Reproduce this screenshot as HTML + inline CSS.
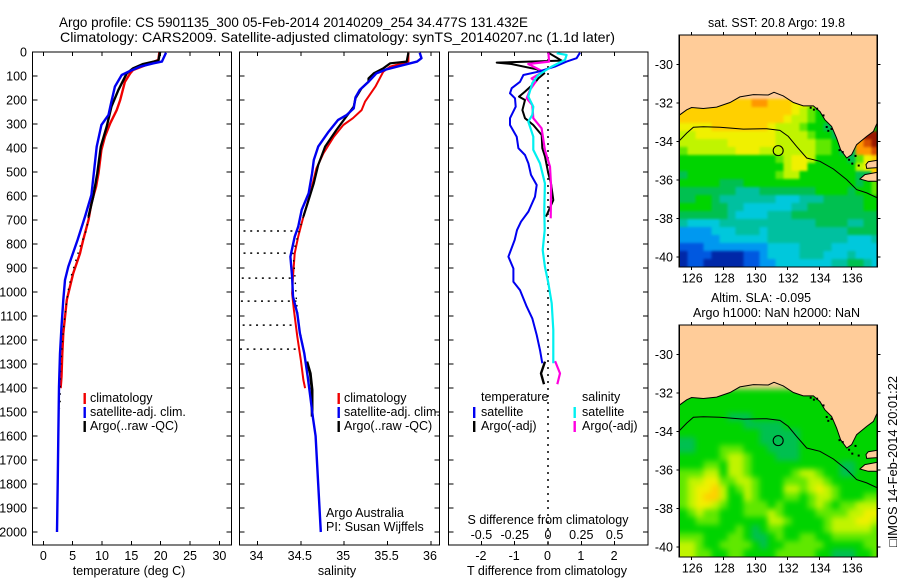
<!DOCTYPE html>
<html>
<head>
<meta charset="utf-8">
<title>Argo profile</title>
<style>
html,body{margin:0;padding:0;background:#fff;}
svg{display:block;}
text{font-family:"Liberation Sans",sans-serif;font-size:12.5px;fill:#000;}
.t{font-size:14px;}
</style>
</head>
<body>
<svg id="chart" xmlns="http://www.w3.org/2000/svg" width="900" height="580" viewBox="0 0 900 580">
<text class="t" x="59" y="27" textLength="469" lengthAdjust="spacingAndGlyphs">Argo profile: CS 5901135_300 05-Feb-2014 20140209_254 34.477S 131.432E</text>
<text class="t" x="60" y="42" textLength="555" lengthAdjust="spacingAndGlyphs">Climatology: CARS2009. Satellite-adjusted climatology: synTS_20140207.nc (1.1d later)</text>
<text x="129" y="575" text-anchor="middle">temperature (deg C)</text>
<text x="337" y="575" text-anchor="middle">salinity</text>
<text x="547" y="575" text-anchor="middle">T difference from climatology</text>
<text x="548" y="524" text-anchor="middle">S difference from climatology</text>
<text x="326" y="517">Argo Australia</text>
<text x="326" y="531">PI: Susan Wijffels</text>
<text x="708" y="27" textLength="137" lengthAdjust="spacingAndGlyphs">sat. SST: 20.8 Argo: 19.8</text>
<text x="711" y="302" textLength="100" lengthAdjust="spacingAndGlyphs">Altim. SLA: -0.095</text>
<text x="693" y="317" textLength="167" lengthAdjust="spacingAndGlyphs">Argo h1000: NaN h2000: NaN</text>
<text x="0" y="0" transform="translate(897,547) rotate(-90)" textLength="171" lengthAdjust="spacingAndGlyphs">□IMOS 14-Feb-2014 20:01:22</text>
<g id="panels"></g>
</svg>
<script>
// ---------- axis tick labels ----------
const depthTicks = [0,100,200,300,400,500,600,700,800,900,1000,1100,1200,1300,1400,1500,1600,1700,1800,1900,2000];
const tempTicks = [0,5,10,15,20,25,30];
const salTicks = [34,34.5,35,35.5,36];
const dTTicks = [-2,-1,0,1,2];
const dSTickValues = [-0.5,-0.25,0,0.25,0.5];
const lonTicks = [126,128,130,132,134,136];
const latTicks = [-30,-32,-34,-36,-38,-40];

// ---------- temperature profiles ----------
const tempClimDepth = [3,33,54,75,89,124,200,242,297,353,408,505,561,630,700,783,839,922,1033,1172,1256,1353,1401];
const tempClimValue = [19.77,19.6,17.5,15.3,14.8,13.9,13.1,12.5,11.4,10.5,9.9,9.4,9,8.2,7.7,6.8,6.25,5.1,4,3.4,3.24,3.1,2.95];
const tempSatDepth = [3,40,47,61,82,96,144,207,262,304,394,505,596,686,783,894,950,1033,1144,1256,1394,1603,1800,2000];
const tempSatValue = [20.9,20.2,18.75,16.5,14.5,13.35,12.2,11.6,11.1,9.9,9.1,8.6,8.2,7.1,5.85,4.26,3.7,3.4,3.1,2.84,2.67,2.56,2.45,2.33];
const tempArgoDepth = [0,36,50,68,89,158,228,311,394,505,603,686];
const tempArgoValue = [19.9,19.6,17,15.3,14.2,12.8,11.6,10.8,9.8,9.2,8.5,7.7];
const tempArgoSparseDepth = [686,740,811,929,992,1061,1158,1311,1485];
const tempArgoSparseValue = [7.7,7.4,6.25,4.8,4.26,3.86,3.4,2.95,2.84];

// ---------- salinity profiles ----------
const salClimDepth = [3,40,61,82,144,207,242,276,304,353,422,485,589,686,769,839,936,1006,1075,1186,1283,1367,1401];
const salClimValue = [35.74,35.74,35.53,35.45,35.36,35.24,35.2,35.1,34.99,34.88,34.76,34.68,34.61,34.53,34.47,34.43,34.41,34.4,34.42,34.46,34.5,34.53,34.55];
const salSatDepth = [3,26,40,58,72,89,124,158,189,235,262,283,332,394,450,505,589,658,728,769,853,936,1019,1089,1172,1256,1353,1436,1526,1600,1800,2000];
const salSatValue = [35.87,35.89,35.84,35.64,35.49,35.37,35.28,35.18,35.13,35.11,35.03,34.93,34.82,34.7,34.65,34.63,34.59,34.51,34.47,34.43,34.38,34.4,34.41,34.46,34.49,34.54,34.58,34.61,34.64,34.67,34.7,34.73];
const salArgoDepth = [3,40,47,68,89,110,124,151,193,228,276,325,394,471,547,617,686];
const salArgoValue = [35.74,35.72,35.53,35.45,35.34,35.28,35.28,35.2,35.13,35.11,35.01,34.91,34.78,34.7,34.65,34.59,34.53];
const salArgoSparseDepth = [686,707,839,922,1040,1144,1269];
const salArgoSparseValue = [34.53,34.51,34.41,34.43,34.45,34.48,34.55];
const salArgoLowerDepth = [1290,1339,1408,1519];
const salArgoLowerValue = [34.57,34.61,34.63,34.63];
const dottedDepths = [746,838,942,1038,1138,1238];
const dottedStartSal = [33.84,33.84,33.82,33.81,33.83,33.8];
const dottedEndSal = [34.47,34.41,34.39,34.45,34.45,34.49];

// ---------- difference profiles ----------
const dTSatDepth = [3,26,40,61,82,96,124,151,172,193,228,276,304,353,401,429,464,512,554,603,665,707,742,783,853,902,957,992,1061,1110,1179,1242,1297];
const dTSatValue = [0.96,0.86,0.56,0.21,-0.29,-0.74,-0.84,-1.09,-1.14,-0.99,-0.97,-1.14,-1.14,-0.94,-0.89,-0.69,-0.59,-0.51,-0.34,-0.39,-0.59,-0.81,-0.93,-1,-1.19,-1.04,-1.04,-0.84,-0.64,-0.47,-0.34,-0.24,-0.17];
const dTArgoDepth = [3,36,44,50,72,89,110,124,165,186,200,242,276,304,346,401,436,506,547,617,686];
const dTArgoValue = [0.01,0.41,-1.54,-1.1,-0.34,-0.11,-0.29,-0.37,-0.69,-0.87,-0.69,-0.77,-0.69,-0.44,-0.19,-0.17,-0.09,0.01,0.09,0.16,-0.06];
const dTArgoLowerDepth = [1290,1339,1384];
const dTArgoLowerValue = [-0.09,-0.21,-0.12];
const dSSatDepth = [5,12,33,61,96,130,186,228,262,290,353,408,464,547,658,742,825,894,964,1047,1158,1297];
const dSSatValue = [0.065,0.14,0.128,0.028,-0.073,-0.118,-0.148,-0.11,-0.118,-0.148,-0.11,-0.11,-0.06,-0.023,-0.028,-0.025,-0.04,-0.023,0.003,0.028,0.04,0.04];
const dSArgoDepth = [3,40,50,82,110,124,158,193,221,276,318,408,478,561,693];
const dSArgoValue = [0.003,0.008,-0.148,-0.035,-0.123,-0.093,-0.135,-0.16,-0.118,-0.11,-0.048,-0.023,0.015,0.023,0.02];
const dSArgoLowerDepth = [1288,1339,1384];
const dSArgoLowerValue = [0.053,0.09,0.07];

// ---------- map data ----------
const colorScale = ['#0028a8','#0058e0','#0098f0','#00c8dc','#00c0a0','#00c050','#00d400','#60e800','#c0f400','#f0f000','#ffd000','#ff9800','#d85000','#981800'];
const gridFirstRow = 8;
const sstRows = [
"aaaaaaaaabbaaa99877666666",
"aaaaaaaaaaaaaa98766666666",
"aaaaaaaaaaaaa988766666666",
"9999aaaaaaa98887665556666",
"8899999999998888766555bdd",
"8888889999998888877655bcd",
"7888888999888888877655bbc",
"666666666666789986666579a",
"666666666666689966666689a",
"566666666666788666666655a",
"6666655566666666666666567",
"5555555444555555566665667",
"5566544444443334445555566",
"6666554433333344555555566",
"5555554333344455555555555",
"4333344444444444455554455",
"2222333444344444444445555",
"2222233333344444444443334",
"1112222222233334444333333",
"0111000011233334443334333",
"0110000011223333333445543"
];
const slaRows = [
"6666666666666666666666666",
"6666666666666666666666666",
"6666666666666666666666666",
"6666665556666666666666666",
"6666666655555666666666666",
"6666666666555556666666666",
"5566666666555556666666666",
"5566677766655556666666666",
"6666678876665556666666666",
"6667768876666666666655666",
"7778868876666678876655666",
"7889977887666777887666666",
"7899a86787666887898766666",
"789aa86687666776788766677",
"7899876677767666787677888",
"6787766677787666677778899",
"6677766666688766667888998",
"6666666765677666667888887",
"7776667765567667766777777",
"8876677776566777776666677",
"8877667766667777766555667"
];
const coastLon = [125.25,125.71,126.02,126.75,127.58,128.42,129.04,129.88,130.81,131.17,131.75,132.38,133,133.63,134.04,134.35,134.77,135.08,135.33,135.71,136.02,136.33,136.96,137.38,137.63,137.7,125.2,125.2];
const coastLat = [-32.64,-32.36,-32.24,-32.29,-32.22,-31.98,-31.69,-31.57,-31.59,-31.45,-31.64,-31.98,-32.16,-32.16,-32.45,-32.88,-33.22,-33.83,-34.43,-34.86,-34.69,-34.17,-33.74,-33.48,-33.02,-28,-28,-32.64];
const yorkeLon = [136.92,137.06,137.63,137.63,136.96];
const yorkeLat = [-35.2,-35.05,-34.98,-35.36,-35.4];
const kangarooLon = [136.54,136.85,137.63,137.63,137.06];
const kangarooLat = [-35.95,-35.72,-35.6,-36.07,-36.07];
const isobathLon = [125.25,125.71,126.13,126.75,127.79,129.25,130.71,131.54,132.06,132.58,133.21,134.04,134.88,135.71,136.33,136.96,137.63];
const isobathLat = [-33.97,-33.57,-33.26,-33.24,-33.26,-33.36,-33.34,-33.43,-33.74,-34.26,-34.86,-35.03,-35.43,-35.98,-36.5,-36.67,-36.93];
const speckLon = [133.4,133.6,133.8,134.2,134.4,134.5,134.7,135.2,135.4,135.8,136,136.2,136.4];
const speckLat = [-32.2,-32.3,-32.25,-32.6,-33.2,-33.4,-33.3,-34.4,-34.5,-34.9,-35.1,-34.7,-35.2];
const argoLon = 131.43;
const argoLat = -34.477;

// ---------- scales ----------
const yD = d => 52 + d * 0.24;
const xT = t => 43.3 + t * 5.87;
const xS = s => 257.4 + (s - 34) * 86.8;
const xDT = t => 548 + t * 33.3;
const xDS = s => 548 + s * 133.2;
const xLon = lon => 691.3 + (lon - 126) * 16;
const yLat = (lat, top) => top + 29.3 + (-30 - lat) * 19.28;

const NS = 'http://www.w3.org/2000/svg';
const root = document.getElementById('panels');
function mk(tag, attrs, parent) {
  const e = document.createElementNS(NS, tag);
  for (const k in attrs) e.setAttribute(k, attrs[k]);
  (parent || root).appendChild(e);
  return e;
}
function tickPath(list) {
  return list.map(p => 'M' + p[0] + ' ' + p[1] + 'L' + p[2] + ' ' + p[3]).join('');
}
function polyD(xs, ys) {
  return xs.map((x, i) => (i ? 'L' : 'M') + x.toFixed(1) + ' ' + ys[i].toFixed(1)).join('');
}

function drawFrame(name, l, r, t, b, xTickPos, yTickPos) {
  const frame = mk('rect', {x:l, y:t, width:r-l, height:b-t, fill:'none', stroke:'#000', 'stroke-width':1.4, 'shape-rendering':'crispEdges'});
  
  
  const segs = [];
  xTickPos.forEach(x => { segs.push([x,t,x,t+4]); segs.push([x,b,x,b-4]); });
  yTickPos.forEach(y => { segs.push([l,y,l+5,y]); segs.push([r,y,r-5,y]); });
  const ticks = mk('path', {d:tickPath(segs), stroke:'#000', 'stroke-width':1, fill:'none', 'shape-rendering':'crispEdges'});
  
  
}
function drawLabel(name, x, y, txt, anchor) {
  const e = mk('text', {x:x, y:y, 'text-anchor':anchor || 'middle'});
  e.textContent = txt;
  
  
}
function drawSeries(name, xs, depths, color, width, dash) {
  const a = {d:polyD(xs, depths.map(yD)), fill:'none', stroke:color, 'stroke-width':width, 'stroke-linejoin':'round'};
  if (dash) a['stroke-dasharray'] = dash;
  const e = mk('path', a);
  
  
}
function drawLegendBar(name, x, y, color) {
  const e = mk('rect', {x:x, y:y, width:2.4, height:11, fill:color});
  
  
}

// ---------- temperature panel ----------
drawFrame('temperature-panel', 32.5, 231.5, 52, 545, tempTicks.map(xT), depthTicks.map(yD));
depthTicks.forEach(d => drawLabel('depth-tick-label', 27, yD(d) + 4.5, String(d), 'end'));
tempTicks.forEach(t => drawLabel('temperature-tick-label', xT(t), 560, String(t)));
drawSeries('temperature-climatology-line', tempClimValue.map(xT), tempClimDepth, '#f00000', 2.4);
drawSeries('temperature-argo-sparse-marks', tempArgoSparseValue.map(xT), tempArgoSparseDepth, '#000', 1.4, '1.5 6');
drawSeries('temperature-argo-line', tempArgoValue.map(xT), tempArgoDepth, '#000', 2.4);
drawSeries('temperature-satellite-line', tempSatValue.map(xT), tempSatDepth, '#0000f0', 2.4);
drawLegendBar('legend-climatology-bar', 83.5, 393, '#f00000');
drawLabel('legend-climatology', 90, 402, 'climatology', 'start');
drawLegendBar('legend-satellite-bar', 83.5, 407, '#0000f0');
drawLabel('legend-satellite-adj', 90, 416, 'satellite-adj. clim.', 'start');
drawLegendBar('legend-argo-bar', 83.5, 421, '#000');
drawLabel('legend-argo-raw', 90, 430, 'Argo(..raw -QC)', 'start');

// ---------- salinity panel ----------
drawFrame('salinity-panel', 239.5, 439.5, 52, 545, salTicks.map(xS), depthTicks.map(yD));
salTicks.forEach(s => drawLabel('salinity-tick-label', xS(s) - 1, 560, String(s)));
dottedDepths.forEach((d, i) => {
  const e = mk('line', {x1:xS(dottedStartSal[i]), x2:xS(dottedEndSal[i]), y1:yD(d), y2:yD(d), stroke:'#000', 'stroke-width':1.5, 'stroke-dasharray':'2 4.7'});
  
  
});
drawSeries('salinity-climatology-line', salClimValue.map(xS), salClimDepth, '#f00000', 2);
drawSeries('salinity-argo-sparse-marks', salArgoSparseValue.map(xS), salArgoSparseDepth, '#000', 1.4, '1.5 6');
drawSeries('salinity-argo-line', salArgoValue.map(xS), salArgoDepth, '#000', 2.2);
drawSeries('salinity-argo-lower-line', salArgoLowerValue.map(xS), salArgoLowerDepth, '#000', 2.8);
drawSeries('salinity-satellite-line', salSatValue.map(xS), salSatDepth, '#0000f0', 2.4);
drawLegendBar('legend-climatology-bar', 337.5, 393, '#f00000');
drawLabel('legend-climatology', 344, 402, 'climatology', 'start');
drawLegendBar('legend-satellite-bar', 337.5, 407, '#0000f0');
drawLabel('legend-satellite-adj', 344, 416, 'satellite-adj. clim.', 'start');
drawLegendBar('legend-argo-bar', 337.5, 421, '#000');
drawLabel('legend-argo-raw', 344, 430, 'Argo(..raw -QC)', 'start');

// ---------- difference panel ----------
drawFrame('difference-panel', 448.5, 648, 52, 545, dTTicks.map(xDT), depthTicks.map(yD));
dTTicks.forEach(t => drawLabel('t-difference-tick-label', xDT(t) - 0.5, 560, String(t)));
dSTickValues.forEach((s, i) => drawLabel('s-difference-tick-label', xDT(dTTicks[i]), 539, String(s)));
const zeroLine = mk('line', {x1:xDT(0), x2:xDT(0), y1:52, y2:545, stroke:'#000', 'stroke-width':1.5, 'stroke-dasharray':'2 5'});


drawSeries('t-difference-argo-line', dTArgoValue.map(xDT), dTArgoDepth, '#000', 2);
drawSeries('t-difference-argo-lower-line', dTArgoLowerValue.map(xDT), dTArgoLowerDepth, '#000', 2.4);
drawSeries('s-difference-argo-line', dSArgoValue.map(xDS), dSArgoDepth, '#ff00e0', 2.2);
drawSeries('s-difference-argo-lower-line', dSArgoLowerValue.map(xDS), dSArgoLowerDepth, '#ff00e0', 2.2);
drawSeries('t-difference-satellite-line', dTSatValue.map(xDT), dTSatDepth, '#0000f0', 2);
drawSeries('s-difference-satellite-line', dSSatValue.map(xDS), dSSatDepth, '#00f0f0', 2.2);
drawLabel('legend-temperature-heading', 481, 401, 'temperature', 'start');
drawLabel('legend-salinity-heading', 582, 401, 'salinity', 'start');
drawLegendBar('legend-t-satellite-bar', 473, 407, '#0000f0');
drawLabel('legend-t-satellite', 481, 416, 'satellite', 'start');
drawLegendBar('legend-t-argo-bar', 473, 421, '#000');
drawLabel('legend-t-argo', 481, 430, 'Argo(-adj)', 'start');
drawLegendBar('legend-s-satellite-bar', 573.5, 407, '#00f0f0');
drawLabel('legend-s-satellite', 582, 416, 'satellite', 'start');
drawLegendBar('legend-s-argo-bar', 573.5, 421, '#ff00e0');
drawLabel('legend-s-argo', 582, 430, 'Argo(-adj)', 'start');

// ---------- maps ----------
function drawMap(name, rows, top, blur) {
  const left = 679.3, right = 877.3, bottom = top + 232;
  const clipId = name + '-clip';
  const defs = mk('clipPath', {id:clipId});
  mk('rect', {x:left, y:top, width:right-left, height:bottom-top}, defs);
  const filterId = name + '-smooth';
  const filter = mk('filter', {id:filterId, filterUnits:'userSpaceOnUse', x:left-40, y:top-40, width:right-left+80, height:bottom-top+80, 'color-interpolation-filters':'sRGB'});
  mk('feGaussianBlur', {stdDeviation:blur}, filter);
  const group = mk('g', {'clip-path':'url(#' + clipId + ')'});
  
  
  const bg = mk('rect', {x:left, y:top, width:right-left, height:bottom-top, fill:'#ffcc99'}, group);
  
  
  const cells = mk('g', {filter:'url(#' + filterId + ')'}, group);
  
  
  rows.forEach((row, r) => {
    const full = row.padEnd(25, row[row.length - 1]).slice(0, 25);
    for (let c = 0; c < 25; c++) {
      const lon = 125.25 + c * 0.5;
      const lat = -28.48 - (r + gridFirstRow) * 0.415;
      const pad = c === 0 ? 16 : 0;
      const padR = c === 24 ? 16 : 0;
      const padB = r === rows.length - 1 ? 16 : 0;
      const cell = mk('rect', {x:(xLon(lon) - pad).toFixed(1), y:yLat(lat, top).toFixed(1), width:8.4 + pad + padR, height:8.4 + padB, fill:colorScale[parseInt(full[c], 16)], 'shape-rendering':'crispEdges'}, cells);
      
      
    }
  });
  const ys = lats => lats.map(v => yLat(v, top));
  [[coastLon, coastLat, 'coast'], [yorkeLon, yorkeLat, 'yorke-peninsula'], [kangarooLon, kangarooLat, 'kangaroo-island']].forEach(s => {
    const land = mk('path', {d:polyD(s[0].map(xLon), ys(s[1])) + 'Z', fill:'#ffcc99', stroke:'#000', 'stroke-width':1}, group);
    
    
  });
  speckLon.forEach((lon, i) => {
    const sp = mk('rect', {x:xLon(lon), y:yLat(speckLat[i], top), width:2, height:2, fill:'#000'}, group);
    
    
  });
  const iso = mk('path', {d:polyD(isobathLon.map(xLon), ys(isobathLat)), fill:'none', stroke:'#000', 'stroke-width':1}, group);
  
  
  const marker = mk('circle', {cx:xLon(argoLon), cy:yLat(argoLat, top), r:5, fill:'none', stroke:'#000', 'stroke-width':1.1}, group);
  
  

  const frame = mk('rect', {x:left, y:top, width:right-left, height:bottom-top, fill:'none', stroke:'#000', 'stroke-width':1.2, 'shape-rendering':'crispEdges'});
  
  
  const segs = [];
  lonTicks.forEach(l => { const x = xLon(l); segs.push([x,top,x,top-3]); segs.push([x,bottom,x,bottom+3]); });
  latTicks.forEach(l => { const y = yLat(l, top); segs.push([left,y,left-3,y]); segs.push([right,y,right+3,y]); });
  const ticks = mk('path', {d:tickPath(segs), stroke:'#000', 'stroke-width':1, fill:'none', 'shape-rendering':'crispEdges'});
  
  
  lonTicks.forEach(l => drawLabel(name + '-longitude-label', xLon(l) + 1, bottom + 15.5, String(l)));
  latTicks.forEach(l => drawLabel(name + '-latitude-label', 673, yLat(l, top) + 4.5, String(l), 'end'));
}
drawMap('sst-map', sstRows, 35, 1.2);
drawMap('sla-map', slaRows, 325, 3);
</script>
</body>
</html>
